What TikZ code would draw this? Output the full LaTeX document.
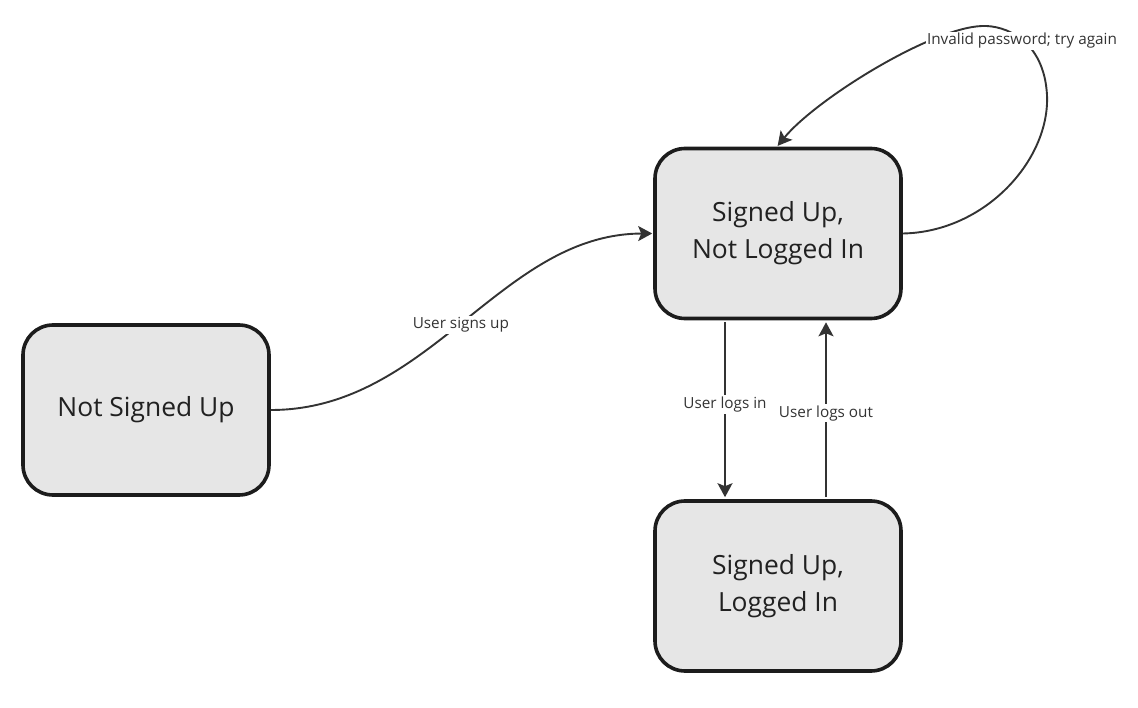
\documentclass[tikz,border=0pt]{standalone}
\usepackage{fontspec}
\setmainfont{Open Sans}
\usetikzlibrary{arrows.meta}
\definecolor{boxfill}{HTML}{E6E6E6}
\definecolor{boxline}{HTML}{1C1C1C}
\definecolor{edgecol}{HTML}{333333}
\tikzset{
  state/.style={draw=boxline, fill=boxfill, line width=3.6pt, rounded corners=30pt,
    minimum width=246pt, minimum height=170pt, align=center, text=black!87,
    font=\fontsize{26.4}{37}\selectfont, inner sep=0pt},
  edge/.style={draw=edgecol, line width=1.9pt, -{Stealth[length=14pt,width=15pt,inset=3pt]}},
  lbl/.style={fill=white, text=black!80, font=\fontsize{15.3}{18}\selectfont, inner sep=1.5pt}
}
\begin{document}
\begin{tikzpicture}[x=1pt,y=-1pt]
\useasboundingbox (0,0) rectangle (1138,708);
\node[state] (A) at (146,410) {Not Signed Up};
\node[state] (B) at (778,233.5) {Signed Up,\\Not Logged In};
\node[state] (C) at (778,586) {Signed Up,\\Logged In};

\draw[edge, shorten >=1pt] (A.east) .. controls (430,410) and (500,234) .. node[lbl, pos=0.49] {User signs up} (B.west);

\draw[edge, shorten >=2pt, shorten <=2pt] ([xshift=-53pt]B.south) -- node[lbl, pos=0.47] {User logs in} ([xshift=-53pt]C.north);
\draw[edge, shorten >=2pt, shorten <=2pt] ([xshift=48pt]C.north) -- node[lbl, pos=0.48] {User logs out} ([xshift=48pt]B.south);

\coordinate (loopR) at (1047,95);
\coordinate (loopT) at (982,26);
\draw[edge, shorten >=1pt] (B.east) .. controls (985,232) and (1050,160) .. (loopR)
  .. controls (1044,40) and (1005,25) .. (loopT)
  .. controls (930,28) and (815,100) .. ([xshift=-1pt]B.north);
\node[lbl] (L) at (1022,41) {Invalid password; try again};
\end{tikzpicture}
\end{document}
